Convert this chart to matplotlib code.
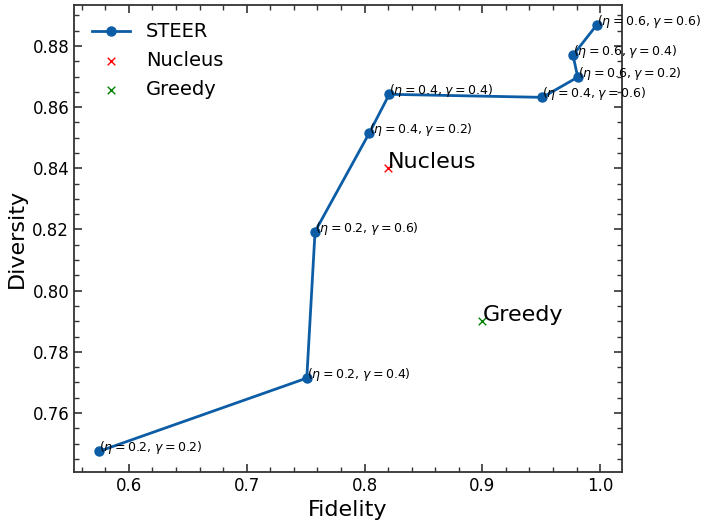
import matplotlib
matplotlib.use("Agg")
import matplotlib.pyplot as plt
from matplotlib.ticker import MultipleLocator, AutoMinorLocator

# Data
steer_fidelity = [0.575, 0.751, 0.758, 0.804, 0.821, 0.951, 0.981, 0.977, 0.997]
steer_diversity = [0.7475, 0.7714, 0.8193, 0.8515, 0.8642, 0.8632, 0.8698, 0.8770, 0.8868]
steer_eta = [0.2, 0.2, 0.2, 0.4, 0.4, 0.4, 0.6, 0.6, 0.6]
steer_gamma = [0.2, 0.4, 0.6, 0.2, 0.4, 0.6, 0.2, 0.4, 0.6]
nucleus_point = (0.820, 0.840)
greedy_point = (0.900, 0.790)

fig = plt.figure(figsize=(7.07, 5.26), dpi=100)
ax = fig.add_axes([0.1047, 0.1027, 0.7751, 0.8878])

ax.plot(steer_fidelity, steer_diversity, '-o', color='#0C5DA5', lw=2,
        markersize=6.5, label='STEER')
ax.scatter([nucleus_point[0]], [nucleus_point[1]], marker='x', color='red',
           s=30, linewidths=1, label='Nucleus', zorder=3)
ax.scatter([greedy_point[0]], [greedy_point[1]], marker='x', color='green',
           s=30, linewidths=1, label='Greedy', zorder=3)

for x, y, e, g in zip(steer_fidelity, steer_diversity, steer_eta, steer_gamma):
    ax.text(x, y, rf'($\eta={e}$, $\gamma={g}$)', fontsize=9)

ax.text(nucleus_point[0], nucleus_point[1], 'Nucleus', fontsize=16)
ax.text(greedy_point[0], greedy_point[1], 'Greedy', fontsize=16)

ax.set_xlim(0.5534, 1.0186)
ax.set_ylim(0.7407, 0.8934)
ax.xaxis.set_major_locator(MultipleLocator(0.1))
ax.xaxis.set_minor_locator(AutoMinorLocator(5))
ax.yaxis.set_major_locator(MultipleLocator(0.02))
ax.yaxis.set_minor_locator(AutoMinorLocator(4))
ax.tick_params(which='both', direction='in', top=True, right=True,
               color='#333333', labelsize=12)
ax.tick_params(which='major', length=6, width=1.2)
ax.tick_params(which='minor', length=3.5, width=1.0)
for sp in ax.spines.values():
    sp.set_color('#333333')
    sp.set_linewidth(1.3)

ax.set_xlabel('Fidelity', fontsize=16)
ax.set_ylabel('Diversity', fontsize=16)

ax.legend(loc='upper left', frameon=False, fontsize=14)

fig.savefig('out.png', dpi=100)
